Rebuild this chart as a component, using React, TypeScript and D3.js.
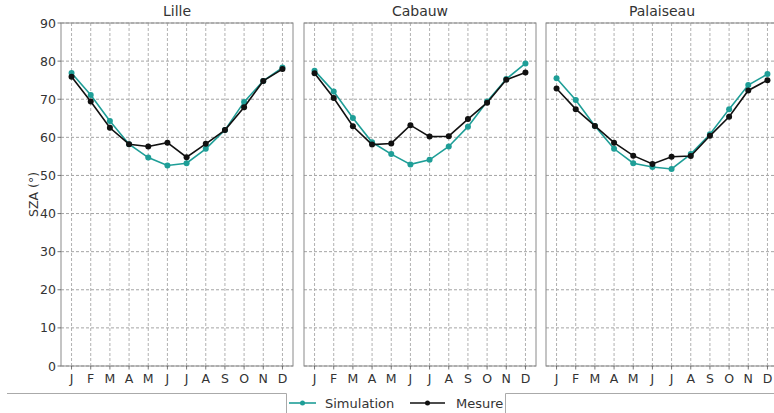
import React from "react";
import * as d3 from "d3";

const months = ["J", "F", "M", "A", "M", "J", "J", "A", "S", "O", "N", "D"];
const yTicks = [0, 10, 20, 30, 40, 50, 60, 70, 80, 90];
const sites = ["Lille", "Cabauw", "Palaiseau"];

const lilleSim = [76.9, 71.1, 64.3, 58.2, 54.7, 52.6, 53.2, 57.0, 61.9, 69.3, 74.8, 78.3];
const lilleMes = [75.9, 69.4, 62.5, 58.2, 57.6, 58.6, 54.8, 58.3, 61.9, 67.9, 74.8, 77.9];
const cabauwSim = [77.5, 72.0, 65.1, 58.7, 55.6, 52.9, 54.1, 57.6, 62.8, 69.4, 75.3, 79.4];
const cabauwMes = [76.8, 70.3, 62.9, 58.1, 58.4, 63.2, 60.2, 60.3, 64.8, 69.1, 75.1, 77.0];
const palSim = [75.5, 69.8, 63.0, 57.0, 53.2, 52.2, 51.7, 55.6, 60.8, 67.4, 73.7, 76.6];
const palMes = [72.8, 67.4, 63.0, 58.6, 55.2, 53.0, 54.9, 55.1, 60.4, 65.4, 72.3, 75.0];

const simData = [lilleSim, cabauwSim, palSim];
const mesData = [lilleMes, cabauwMes, palMes];

const SIM_COLOR = "#1e9e97";
const MES_COLOR = "#111111";
const FONT = "DejaVu Sans, sans-serif";
const TEXT = "#333333";

export default function App() {
  const W = 774, H = 413;
  const top = 23, bottom = 366;
  const panelLefts = [61, 304, 546];
  const panelW = 232;
  const y = d3.scaleLinear().domain([0, 90]).range([bottom, top]);

  return (
    <svg width={W} height={H} style={{ position: "absolute", left: 0, top: 0, background: "#fff" }}>
      {sites.map((site, i) => {
        const x0 = panelLefts[i];
        const x = d3.scaleLinear().domain([0.45, 12.55]).range([x0, x0 + panelW]);
        const line = d3.line<number>().x((_, j) => x(j + 1)).y((v) => y(v));
        return (
          <g key={site}>
            {yTicks.map((t) => (
              <line key={"h" + t} x1={x0} x2={x0 + panelW} y1={y(t)} y2={y(t)} stroke="#9a9a9a" strokeWidth={0.9} strokeDasharray="3,2" />
            ))}
            {months.map((m, j) => (
              <line key={"v" + j} x1={x(j + 1)} x2={x(j + 1)} y1={top} y2={bottom} stroke="#a8a8a8" strokeWidth={0.9} strokeDasharray="3,2" />
            ))}
            <rect x={x0} y={top} width={panelW} height={bottom - top} fill="none" stroke="#8a8a8a" strokeWidth={1} />
            {months.map((m, j) => (
              <g key={"t" + j}>
                <line x1={x(j + 1)} x2={x(j + 1)} y1={bottom} y2={bottom + 3.5} stroke="#555" strokeWidth={0.8} />
                <text x={x(j + 1)} y={bottom + 17} textAnchor="middle" fontFamily={FONT} fontSize={12.5} fill={TEXT}>{m}</text>
              </g>
            ))}
            {i === 0 && yTicks.map((t) => (
              <g key={"yt" + t}>
                <line x1={x0 - 3.5} x2={x0} y1={y(t)} y2={y(t)} stroke="#555" strokeWidth={0.8} />
                <text x={x0 - 5} y={y(t)} dy="0.36em" textAnchor="end" fontFamily={FONT} fontSize={12.5} fill={TEXT}>{t}</text>
              </g>
            ))}
            <text x={x0 + panelW / 2} y={16} textAnchor="middle" fontFamily={FONT} fontSize={14} fill={TEXT}>{site}</text>
            <path d={line(simData[i]) || ""} fill="none" stroke={SIM_COLOR} strokeWidth={1.6} />
            {simData[i].map((v, j) => (
              <circle key={"s" + j} cx={x(j + 1)} cy={y(v)} r={3} fill={SIM_COLOR} />
            ))}
            <path d={line(mesData[i]) || ""} fill="none" stroke={MES_COLOR} strokeWidth={1.6} />
            {mesData[i].map((v, j) => (
              <circle key={"m" + j} cx={x(j + 1)} cy={y(v)} r={3} fill={MES_COLOR} />
            ))}
          </g>
        );
      })}
      <text transform={`translate(38,${(top + bottom) / 2}) rotate(-90)`} textAnchor="middle" fontFamily={FONT} fontSize={12.5} fill={TEXT}>SZA (°)</text>
      {/* legend frame fragments */}
      <path d="M7,393.5 H286.5 V413" fill="none" stroke="#aaaaaa" strokeWidth={1} />
      <path d="M505.5,413 V393.5 H774" fill="none" stroke="#aaaaaa" strokeWidth={1} />
      <line x1={289} x2={316} y1={403} y2={403} stroke={SIM_COLOR} strokeWidth={1.6} />
      <circle cx={302.5} cy={403} r={2.5} fill={SIM_COLOR} />
      <text x={325} y={407.5} fontFamily={FONT} fontSize={13} fill={TEXT}>Simulation</text>
      <line x1={410} x2={445} y1={403} y2={403} stroke={MES_COLOR} strokeWidth={1.6} />
      <circle cx={427.5} cy={403} r={2.5} fill={MES_COLOR} />
      <text x={456} y={407.5} fontFamily={FONT} fontSize={13} fill={TEXT}>Mesure</text>
    </svg>
  );
}
